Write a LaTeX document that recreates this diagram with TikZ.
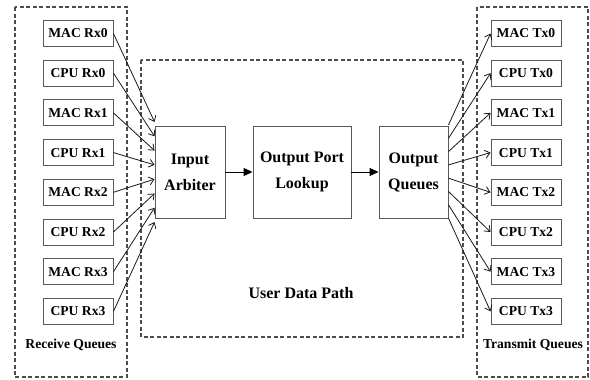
\documentclass[tikz,border=0pt]{standalone}
\usepackage{fontspec}
\setmainfont{Liberation Serif}
\usetikzlibrary{arrows.meta,calc}
\begin{document}
\begin{tikzpicture}[x=1pt,y=-1pt,
  qbox/.style={draw=black!65,line width=0.9pt,fill=white,minimum width=70pt,minimum height=26pt,inner sep=0pt,font=\fontsize{13.6}{16}\selectfont\bfseries},
  mbox/.style={draw=black!65,line width=0.9pt,fill=white,minimum height=92pt,inner sep=0pt,align=center,font=\fontsize{16}{26}\selectfont\bfseries},
  dbox/.style={draw=black!70,line width=1.2pt,dash pattern=on 4pt off 2.5pt},
  lbl/.style={font=\fontsize{13.6}{16}\selectfont\bfseries},
  conn/.style={draw=black!90,line width=0.8pt,-{Straight Barb[length=5pt,width=8pt]}},
  flow/.style={draw=black,line width=1pt,-{Triangle[length=9pt,width=8pt]}}
]
\useasboundingbox (0,0) rectangle (590,380);
% dashed regions
\draw[dbox] (15,7) rectangle (127,377);
\draw[dbox] (141,60) rectangle (463,337);
\draw[dbox] (477,7) rectangle (588,377);
% main boxes
\node[mbox,minimum width=70pt] (ia) at (190,172) {Input\\Arbiter};
\node[mbox,minimum width=98pt] (opl) at (302,172) {Output Port\\Lookup};
\node[mbox,minimum width=69pt] (oq) at (413.5,172) {Output\\Queues};
\draw[flow] (ia.east) -- (opl.west);
\draw[flow] (opl.east) -- (oq.west);
% rx / tx boxes
\foreach \k/\n in {0/MAC Rx0,1/CPU Rx0,2/MAC Rx1,3/CPU Rx1,4/MAC Rx2,5/CPU Rx2,6/MAC Rx3,7/CPU Rx3}{
  \node[qbox] (rx\k) at (78,{33.5+39.7*\k}) {\n};
  \draw[conn] (rx\k.east) -- ($(ia.west)+(0,{-50+\k*14.29})$);
}
\foreach \k/\n in {0/MAC Tx0,1/CPU Tx0,2/MAC Tx1,3/CPU Tx1,4/MAC Tx2,5/CPU Tx2,6/MAC Tx3,7/CPU Tx3}{
  \node[qbox] (tx\k) at (526,{33.5+39.7*\k}) {\n};
  \draw[conn] ($(oq.east)+(0,{-47+\k*13.3})$) -- (tx\k.west);
}
% labels
\node[lbl] (rql) at (71,345) {Receive Queues};
\node[lbl] (tql) at (533,345) {Transmit Queues};
\node[lbl,font=\fontsize{16}{18}\selectfont\bfseries] (udp) at (301,293) {User Data Path};
\end{tikzpicture}
\end{document}
